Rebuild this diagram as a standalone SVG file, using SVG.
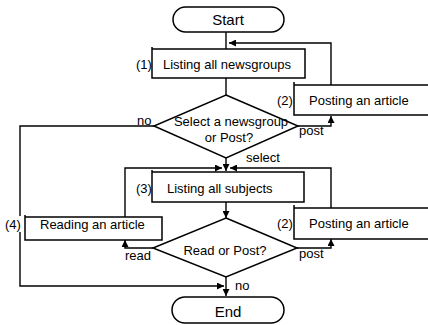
<svg xmlns="http://www.w3.org/2000/svg" width="428" height="325" viewBox="0 0 428 325">
<style>
.s{fill:#fff;stroke:#000;stroke-width:1.5}
.c{fill:none;stroke:#000;stroke-width:1.4}
.t{font-family:"Liberation Sans",Arial,sans-serif;font-size:13px;fill:#000}
.m{text-anchor:middle}
</style>
<defs>
<marker id="a" viewBox="0 0 10 10" refX="10" refY="5" markerWidth="7" markerHeight="7" markerUnits="userSpaceOnUse" orient="auto">
<path d="M0,0 L10,5 L0,10 z" fill="#000"/>
</marker>
</defs>
<g id="connectors">
<path class="c" d="M226,32 V49"/>
<path class="c" d="M331,85 V43 H229" marker-end="url(#a)"/>
<path class="c" d="M226,78 V95"/>
<path class="c" d="M298,126 H331 V116" marker-end="url(#a)"/>
<path class="c" d="M154,126 H20 V286 H224" marker-end="url(#a)"/>
<path class="c" d="M226,158 V171" marker-end="url(#a)"/>
<path class="c" d="M125,217 V168 H222" marker-end="url(#a)"/>
<path class="c" d="M331,208 V168 H230" marker-end="url(#a)"/>
<path class="c" d="M226,202 V218" marker-end="url(#a)"/>
<path class="c" d="M153,248 H125 V240" marker-end="url(#a)"/>
<path class="c" d="M297,248 H331 V239" marker-end="url(#a)"/>
<path class="c" d="M226,277 V296" marker-end="url(#a)"/>
<text class="t" x="137" y="125">no</text>
<text class="t" x="299" y="135">post</text>
<text class="t" x="246" y="162">select</text>
<text class="t" x="125" y="260">read</text>
<text class="t" x="299" y="258">post</text>
<text class="t" x="235" y="290">no</text>
</g>
<g id="start">
<rect class="s" x="173" y="7" width="111" height="25" rx="12.5"/>
<text class="t m" x="228" y="25" style="font-size:15px">Start</text>
</g>
<g id="list-newsgroups">
<path class="s" d="M152,47 V78 H305 V49 H152"/>
<text class="t" x="136" y="69">(1)</text>
<text class="t" x="163" y="69">Listing all newsgroups</text>
</g>
<g id="post-article-1">
<path class="s" d="M294,82 V115 H432 V85 H294"/>
<text class="t" x="277" y="105">(2)</text>
<text class="t" x="309" y="105">Posting an article</text>
</g>
<g id="select-decision">
<polygon class="s" points="226,95 298,126 226,158 154,126"/>
<text class="t m" x="231" y="126">Select a newsgroup</text>
<text class="t m" x="229" y="142">or Post?</text>
</g>
<g id="list-subjects">
<path class="s" d="M152,170 V202 H304 V172 H152"/>
<text class="t" x="136" y="193">(3)</text>
<text class="t" x="167" y="193">Listing all subjects</text>
</g>
<g id="reading-article">
<path class="s" d="M25,215 V240 H162 V217 H25"/>
<rect x="5" y="216" width="19" height="16" fill="#fff"/>
<text class="t" x="5" y="229">(4)</text>
<text class="t" x="40" y="229">Reading an article</text>
</g>
<g id="post-article-2">
<path class="s" d="M294,205 V239 H432 V208 H294"/>
<text class="t" x="277" y="228">(2)</text>
<text class="t" x="309" y="228">Posting an article</text>
</g>
<g id="read-decision">
<polygon class="s" points="226,218 297,248 226,277 153,248"/>
<text class="t m" x="225" y="255">Read or Post?</text>
</g>
<g id="end">
<rect class="s" x="172" y="297" width="112" height="26" rx="13"/>
<text class="t m" x="228" y="317" style="font-size:15px">End</text>
</g>
</svg>
